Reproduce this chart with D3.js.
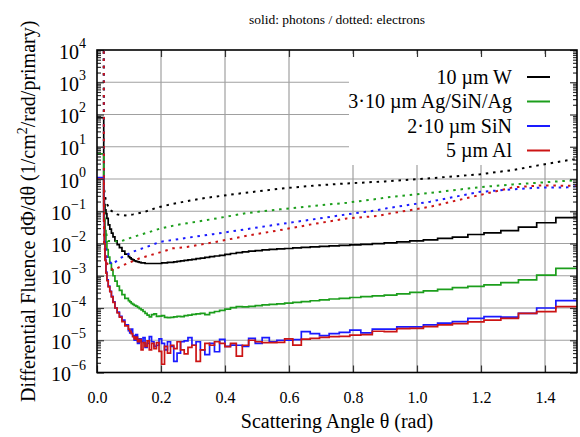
<!DOCTYPE html>
<html>
<head>
<meta charset="utf-8">
<script src="https://cdn.jsdelivr.net/npm/d3@7"></script>
<style>
body { margin: 0; background: #fff; }
svg { display: block; }
text { font-family: "Liberation Serif", "Times New Roman", serif; fill: #000; }
</style>
</head>
<body>
<div id="chart"></div>
<script>
// photon histogram bin edges (rad)
var thetaEdges = [0, 0.021, 0.023, 0.025, 0.028, 0.031, 0.035, 0.04, 0.045, 0.05, 0.056, 0.063, 0.07, 0.078, 0.087,
    0.0980, 0.1023, 0.1068, 0.1114, 0.1162, 0.1213, 0.1266, 0.1321, 0.1378, 0.1438, 0.1501, 0.1566, 0.1634, 0.1705,
    0.1780, 0.1857, 0.1938, 0.2022, 0.2110, 0.2202, 0.2298, 0.2398, 0.2502, 0.2611, 0.2725, 0.2843, 0.2967, 0.3096,
    0.3231, 0.3371, 0.3518, 0.3671, 0.3831, 0.3997, 0.4171, 0.4353, 0.4542, 0.4739, 0.4946, 0.5161, 0.5385, 0.5620,
    0.5864, 0.6119, 0.6385, 0.6663, 0.6953, 0.7255, 0.7571, 0.7900, 0.8244, 0.8603, 0.8977, 0.9368, 0.9775, 1.0200,
    1.0644, 1.1107, 1.1590, 1.2094, 1.262, 1.317, 1.374, 1.434, 1.5];

// photons (solid), one value per bin
var photonW = [80, 0.25, 0.16, 0.11, 0.085, 0.06, 0.038, 0.028, 0.021, 0.016, 0.012, 0.0092, 0.0075, 0.0058, 0.0047,
    0.0039, 0.0036, 0.0033, 0.0031, 0.0029, 0.0028, 0.0027, 0.0026, 0.0025, 0.0025, 0.0024, 0.0024, 0.0024, 0.0024,
    0.0024, 0.0024, 0.0024, 0.0025, 0.0025, 0.0026, 0.0026, 0.0027, 0.0028, 0.0029, 0.0030, 0.0031, 0.0032, 0.0034,
    0.0035, 0.0037, 0.0039, 0.0041, 0.0043, 0.0046, 0.0049, 0.0052, 0.0055, 0.0058, 0.0060, 0.0063, 0.0066, 0.0068,
    0.0070, 0.0073, 0.0076, 0.0079, 0.0082, 0.0085, 0.0088, 0.0091, 0.0094, 0.0099, 0.0104, 0.0113, 0.0120, 0.0130,
    0.0145, 0.0158, 0.019, 0.0215, 0.025, 0.032, 0.044, 0.063];

var photonAg = [6, 0.15, 0.06, 0.025, 0.011, 0.0065, 0.0038, 0.0024, 0.0015, 0.001, 6.8e-4, 4.8e-4, 3.5e-4, 2.6e-4, 2.0e-4,
    1.7e-4, 1.55e-4, 1.4e-4, 1.3e-4, 1.2e-4, 1.15e-4, 1.05e-4, 9.5e-5, 8.8e-5, 7.8e-5, 6.8e-5, 6.0e-5, 5.3e-5, 6.2e-5,
    6.6e-5, 5.5e-5, 5.6e-5, 5.8e-5, 5.1e-5, 5.0e-5, 5.1e-5, 5.3e-5, 5.5e-5, 5.4e-5, 5.8e-5, 6.0e-5, 6.3e-5, 6.6e-5,
    6.8e-5, 6.2e-5, 7.2e-5, 7.8e-5, 8.5e-5, 9.2e-5, 1.03e-4, 1.1e-4, 1.08e-4, 1.13e-4, 1.18e-4, 1.25e-4, 1.3e-4, 1.35e-4,
    1.42e-4, 1.5e-4, 1.58e-4, 1.68e-4, 1.78e-4, 1.9e-4, 2.0e-4, 2.12e-4, 2.24e-4, 2.36e-4, 2.5e-4, 2.75e-4, 3.05e-4, 3.4e-4,
    3.8e-4, 4.3e-4, 4.7e-4, 5.2e-4, 6.1e-4, 7.4e-4, 1.05e-3, 1.7e-3];

var photonSiN = [1.1, 0.05, 0.011, 0.0032, 1.3e-3, 7.5e-4, 4.8e-4, 3.3e-4, 2.3e-4, 1.55e-4, 1.0e-4, 7.5e-5, 5.5e-5, 4.2e-5, 3.0e-5,
    2.0e-5, 1.7e-5, 2.2e-5, 1.4e-5, 1.0e-5, 1.5e-5, 8e-6, 1.1e-5, 9e-6, 1.2e-5, 6e-6, 8e-6, 1.3e-5, 9e-6,
    6.5e-6, 7e-6, 1.1e-5, 8e-6, 5e-6, 9e-6, 6.5e-6, 2.2e-6, 4e-6, 9e-6, 9.5e-6, 1.2e-5, 7e-6, 9e-6,
    5e-6, 3.6e-6, 8e-6, 4.4e-6, 1.07e-5, 6.5e-6, 7.1e-6, 7e-6, 6.5e-6, 1.15e-5, 8e-6, 1.2e-5, 9e-6, 1.0e-5,
    1.0e-5, 1.05e-5, 1.84e-5, 1.6e-5, 1.4e-5, 1.6e-5, 1.75e-5, 2.07e-5, 1.7e-5, 2.2e-5, 2.2e-5, 2.6e-5, 2.6e-5, 3.0e-5,
    3.4e-5, 3.8e-5, 4.8e-5, 5.4e-5, 5.2e-5, 6.8e-5, 1.0e-4, 1.7e-4];

var photonAl = [1.0, 0.05, 0.01, 0.003, 1.2e-3, 7e-4, 4.5e-4, 3.2e-4, 2.2e-4, 1.5e-4, 1.0e-4, 7e-5, 5.2e-5, 3.8e-5, 2.8e-5,
    2.2e-5, 1.9e-5, 1.6e-5, 1.3e-5, 1.1e-5, 1.25e-5, 9e-6, 1.05e-5, 5e-6, 8.5e-6, 6.5e-6, 9.5e-6, 5e-6, 8e-6,
    5.5e-6, 8.5e-6, 4.5e-6, 1.8e-6, 6.5e-6, 4e-6, 7e-6, 5.5e-6, 9e-6, 5e-6, 3.8e-6, 6e-6, 7e-6, 2.2e-6,
    5e-6, 8e-6, 7e-6, 9e-6, 8e-6, 6.3e-6, 8e-6, 3.2e-6, 7e-6, 1.0e-5, 9e-6, 8.4e-6, 8.4e-6, 8.6e-6,
    1.1e-5, 7.1e-6, 1.08e-5, 1.15e-5, 1.23e-5, 1.3e-5, 1.32e-5, 1.45e-5, 1.5e-5, 1.9e-5, 1.84e-5, 2.3e-5, 2.35e-5, 2.65e-5,
    3.0e-5, 3.3e-5, 3.7e-5, 4.2e-5, 4.8e-5, 6.8e-5, 7.7e-5, 1.1e-4];

// electrons (dotted): angle and value pairs
var electronThetaW = [0.021, 0.022, 0.028, 0.04, 0.063, 0.088, 0.113, 0.144, 0.188, 0.238, 0.275, 0.34, 0.45, 0.571, 0.675, 0.781, 0.9, 1.04, 1.197, 1.3, 1.375, 1.456, 1.5];
var electronW = [1e6, 0.5, 0.2, 0.11, 0.08, 0.074, 0.08, 0.092, 0.13, 0.17, 0.2, 0.26, 0.36, 0.5, 0.62, 0.73, 0.84, 1.05, 1.4, 1.9, 2.6, 3.6, 4.2];

var electronThetaAg = [0.021, 0.022, 0.025, 0.034, 0.072, 0.113, 0.156, 0.197, 0.25, 0.281, 0.363, 0.469, 0.572, 0.675, 0.781, 0.875, 0.906, 1.041, 1.197, 1.3, 1.384, 1.469, 1.5];
var electronAg = [1e6, 0.08, 0.03, 0.012, 0.0115, 0.016, 0.0215, 0.029, 0.038, 0.0423, 0.0575, 0.088, 0.115, 0.146, 0.184, 0.24, 0.27, 0.37, 0.56, 0.68, 0.77, 0.88, 0.92];

var electronThetaSiN = [0.021, 0.022, 0.03, 0.047, 0.072, 0.113, 0.156, 0.197, 0.281, 0.363, 0.469, 0.572, 0.675, 0.781, 0.875, 0.906, 1.041, 1.197, 1.3, 1.384, 1.469, 1.5];
var electronSiN = [1e6, 0.02, 0.004, 0.0022, 0.0035, 0.0056, 0.0079, 0.0112, 0.015, 0.0195, 0.028, 0.040, 0.056, 0.080, 0.107, 0.124, 0.198, 0.40, 0.48, 0.54, 0.55, 0.6];

var electronThetaAl = [0.021, 0.022, 0.03, 0.05, 0.094, 0.134, 0.188, 0.238, 0.281, 0.363, 0.469, 0.572, 0.675, 0.781, 0.875, 0.906, 1.041, 1.197, 1.3, 1.384, 1.469, 1.5];
var electronAl = [1e6, 0.01, 0.0025, 0.0015, 0.0024, 0.0035, 0.0050, 0.0071, 0.0078, 0.0108, 0.0174, 0.026, 0.040, 0.060, 0.071, 0.082, 0.138, 0.32, 0.55, 0.63, 0.62, 0.6];

var legendLabels = ["10 \u00b5m W", "3\u00b710 \u00b5m Ag/SiN/Ag", "2\u00b710 \u00b5m SiN", "5 \u00b5m Al"];
var seriesColors = ["#000000", "#1c9e1c", "#1a1aff", "#cc1414"];
var xTickValues = [0.0, 0.2, 0.4, 0.6, 0.8, 1.0, 1.2, 1.4];
var yTickExponents = [-6, -5, -4, -3, -2, -1, 0, 1, 2, 3, 4];

var width = 580;
var height = 437;
var plotLeft = 97, plotRight = 577, plotTop = 50, plotBottom = 372.5;

var svg = d3.select("#chart")
    .append("svg")
    .attr("width", width)
    .attr("height", height);

var x = d3.scaleLinear().domain([0, 1.5]).range([plotLeft, plotRight]);
var y = d3.scaleLog().domain([1e-6, 1e4]).range([plotBottom, plotTop]);

var decades = yTickExponents.map(function (e) { return Math.pow(10, e); });
var minors = [];
yTickExponents.slice(0, -1).forEach(function (e) {
    for (var m = 2; m <= 9; m++) minors.push(m * Math.pow(10, e));
});

// grid
var grid = svg.append("g").attr("stroke", "#a0a0a0").attr("stroke-width", 1.2);
grid.selectAll(".gx")
    .data(xTickValues.slice(1))
    .enter().append("line")
    .attr("x1", function (d) { return x(d); })
    .attr("x2", function (d) { return x(d); })
    .attr("y1", plotTop).attr("y2", plotBottom);
grid.selectAll(".gy")
    .data(decades.slice(1, -1))
    .enter().append("line")
    .attr("x1", plotLeft).attr("x2", plotRight)
    .attr("y1", function (d) { return y(d); })
    .attr("y2", function (d) { return y(d); });

// key box hides the grid behind it
svg.append("rect")
    .attr("x", 349).attr("y", 54)
    .attr("width", 228).attr("height", 111)
    .attr("fill", "#fff");

svg.append("clipPath").attr("id", "clip")
    .append("rect")
    .attr("x", plotLeft).attr("y", plotTop)
    .attr("width", plotRight - plotLeft).attr("height", plotBottom - plotTop);

var plot = svg.append("g").attr("clip-path", "url(#clip)");

function histPoints(values) {
    var pts = values.map(function (v, i) { return [thetaEdges[i], v]; });
    pts.push([thetaEdges[values.length], values[values.length - 1]]);
    return pts;
}

function zip(xs, ys) {
    return xs.map(function (t, i) { return [t, ys[i]]; });
}

var stepLine = d3.line()
    .x(function (d) { return x(d[0]); })
    .y(function (d) { return y(d[1]); })
    .curve(d3.curveStepAfter);

var dotLine = d3.line()
    .x(function (d) { return x(d[0]); })
    .y(function (d) { return y(d[1]); });

var photons = [photonW, photonAg, photonSiN, photonAl];
var electrons = [zip(electronThetaW, electronW), zip(electronThetaAg, electronAg),
    zip(electronThetaSiN, electronSiN), zip(electronThetaAl, electronAl)];

photons.forEach(function (vals, i) {
    plot.append("path")
        .attr("d", dotLine(electrons[i]))
        .attr("fill", "none")
        .attr("stroke", seriesColors[i])
        .attr("stroke-width", 2)
        .attr("stroke-dasharray", "2.5,4.8");
    plot.append("path")
        .attr("d", stepLine(histPoints(vals)))
        .attr("fill", "none")
        .attr("stroke", seriesColors[i])
        .attr("stroke-width", 1.7);
});

// ticks on all four sides, pointing inward
function styleAxis(g) {
    g.select(".domain").remove();
    g.selectAll(".tick line").attr("stroke", "#333").attr("stroke-width", 1.2);
}

svg.append("g")
    .attr("transform", "translate(0," + plotBottom + ")")
    .call(d3.axisBottom(x).tickValues(xTickValues).tickSize(-7).tickFormat(d3.format(".1f")))
    .call(styleAxis)
    .call(function (g) {
        g.selectAll("text")
            .attr("y", 30.5).attr("dy", null)
            .style("font-family", "Liberation Serif")
            .style("font-size", "16px")
            .attr("fill", "#000");
    });

svg.append("g")
    .attr("transform", "translate(0," + plotTop + ")")
    .call(d3.axisTop(x).tickValues(xTickValues).tickSize(-7).tickFormat(""))
    .call(styleAxis);

[[plotLeft, d3.axisLeft], [plotRight, d3.axisRight]].forEach(function (a) {
    svg.append("g")
        .attr("transform", "translate(" + a[0] + ",0)")
        .call(a[1](y).tickValues(decades).tickSize(-7).tickFormat(""))
        .call(styleAxis);
    svg.append("g")
        .attr("transform", "translate(" + a[0] + ",0)")
        .call(a[1](y).tickValues(minors).tickSize(-4).tickFormat(""))
        .call(styleAxis);
});

svg.append("rect")
    .attr("x", plotLeft).attr("y", plotTop)
    .attr("width", plotRight - plotLeft).attr("height", plotBottom - plotTop)
    .attr("fill", "none")
    .attr("stroke", "#000")
    .attr("stroke-width", 1.6);

// y tick labels 10^n
var yLabels = svg.append("g");
yTickExponents.forEach(function (e) {
    var t = yLabels.append("text")
        .attr("x", 86)
        .attr("y", y(Math.pow(10, e)) + 8.5)
        .attr("text-anchor", "end")
        .style("font-size", "20px");
    t.append("tspan").text("10");
    t.append("tspan")
        .attr("dy", -11)
        .style("font-size", "14px")
        .text(e < 0 ? "\u2212" + (-e) : String(e));
});

// titles
svg.append("text")
    .attr("x", (plotLeft + plotRight) / 2).attr("y", 24)
    .attr("text-anchor", "middle")
    .style("font-size", "13.5px")
    .text("solid: photons / dotted: electrons");

svg.append("text")
    .attr("x", (plotLeft + plotRight) / 2).attr("y", 428)
    .attr("text-anchor", "middle")
    .style("font-size", "20px")
    .text("Scattering Angle \u03b8 (rad)");

var yTitle = svg.append("text")
    .attr("transform", "translate(35," + (plotTop + plotBottom) / 2 + ") rotate(-90)")
    .attr("text-anchor", "middle")
    .style("font-size", "20px");
yTitle.append("tspan").text("Differential Fluence d\u03a6/d\u03b8 (1/cm");
yTitle.append("tspan").attr("dy", -8).style("font-size", "14px").text("2");
yTitle.append("tspan").attr("dy", 8).text("/rad/primary)");

// key
var key = svg.append("g");
legendLabels.forEach(function (label, i) {
    var cy = 77 + i * 24.5;
    key.append("text")
        .attr("x", 512).attr("y", cy + 6.5)
        .attr("text-anchor", "end")
        .style("font-size", "20px")
        .text(label);
    key.append("line")
        .attr("x1", 527).attr("x2", 550)
        .attr("y1", cy).attr("y2", cy)
        .attr("stroke", seriesColors[i])
        .attr("stroke-width", 2);
});
</script>
</body>
</html>
